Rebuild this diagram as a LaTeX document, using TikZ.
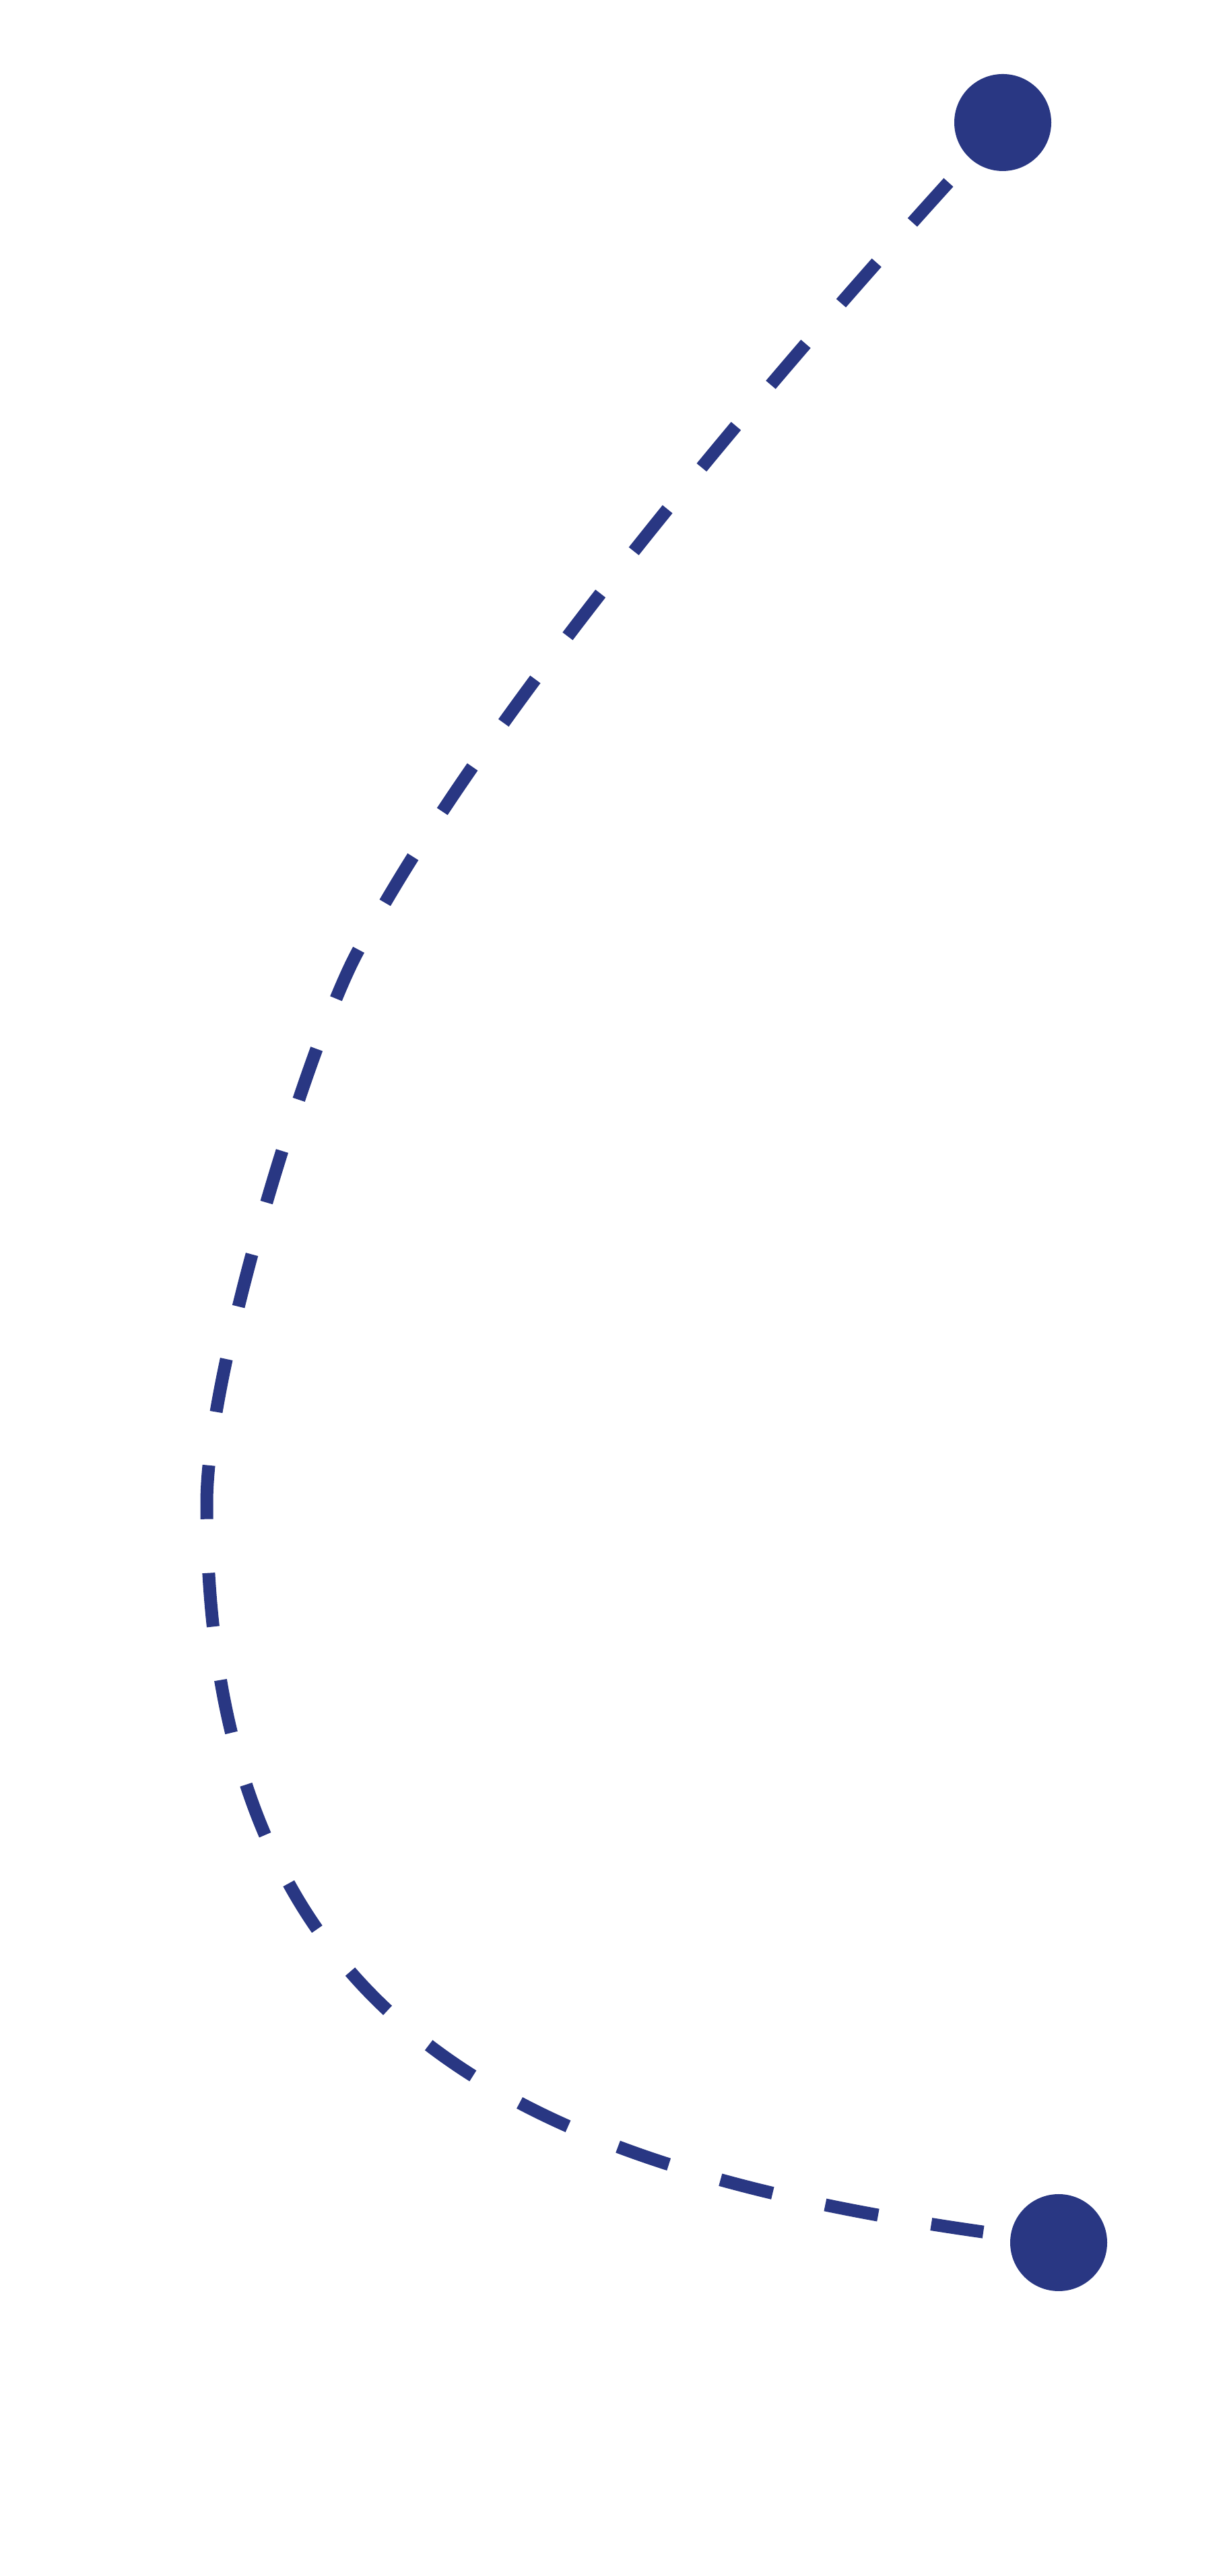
\documentclass[tikz,border=0pt]{standalone}
\usetikzlibrary{positioning}
\definecolor{pathnavy}{HTML}{293783}

\begin{document}
\begin{tikzpicture}[
    % ── Node styles ──────────────────────────────────────────────────────
    dotnode/.style={
        circle, fill=pathnavy, draw=none,
        minimum size=1.44cm, inner sep=0pt
    },
    % ── Path style ───────────────────────────────────────────────────────
    trail/.style={
        draw=pathnavy, line width=0.19cm, line cap=butt,
        dash pattern=on 0.80cm off 0.80cm,
        shorten <=1.20cm, shorten >=1.13cm
    }
]

% Canvas
\useasboundingbox (0,0) rectangle (18.19,38.25);

% ═══════════════════════════════════════════════════════════════════════════
% End points
% ═══════════════════════════════════════════════════════════════════════════
\node[dotnode] (start) at (14.89,36.43) {};
\node[dotnode] (finish) at (15.72,4.95) {};

% Knee and leftmost turning point of the trail
\coordinate (knee) at (5.29,24.08);
\coordinate (bend) at (3.07,15.93);

% ═══════════════════════════════════════════════════════════════════════════
% Dashed trail
% ═══════════════════════════════════════════════════════════════════════════
\draw[trail] (start.center)
    .. controls (11.40,32.58) and (7.16,27.62) .. (knee)
    .. controls (4.59,22.75) and (3.07,17.93) .. (bend)
    .. controls (3.07,8.43) and (7.31,6.14) .. (finish.center);

\end{tikzpicture}
\end{document}
